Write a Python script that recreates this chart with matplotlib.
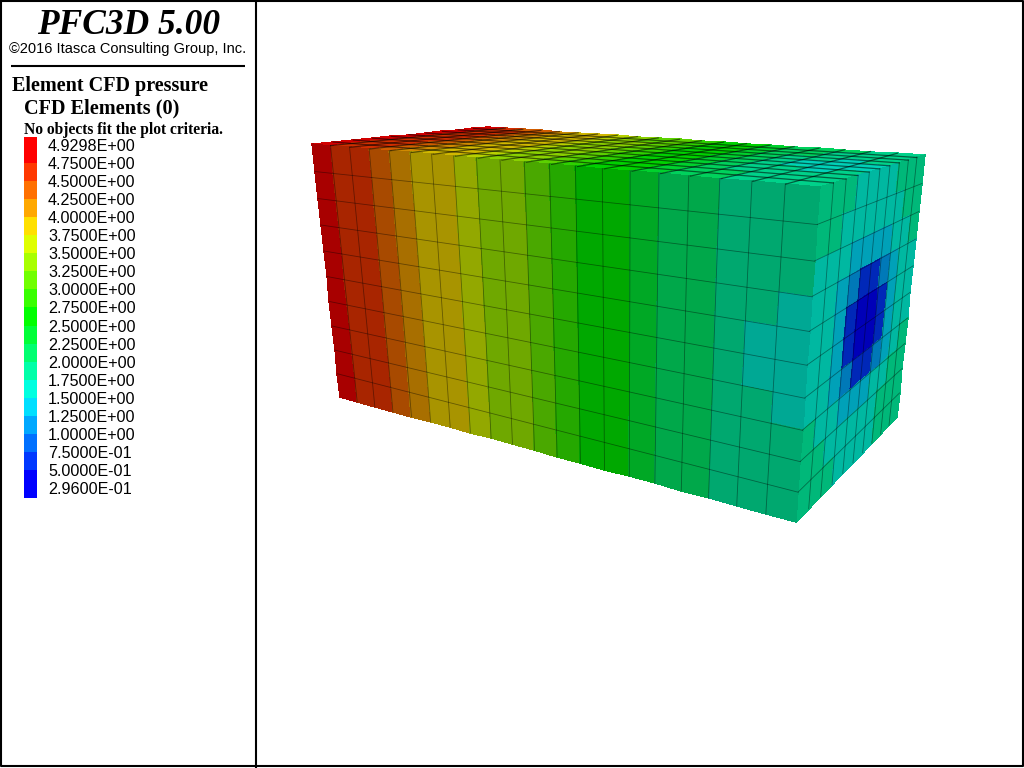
import numpy as np
import matplotlib
matplotlib.use("Agg")
import matplotlib.pyplot as plt
from matplotlib.colors import BoundaryNorm, ListedColormap, to_rgb

# legend, top entry first
legend_labels = ["4.9298E+00", "4.7500E+00", "4.5000E+00", "4.2500E+00", "4.0000E+00",
                 "3.7500E+00", "3.5000E+00", "3.2500E+00", "3.0000E+00", "2.7500E+00",
                 "2.5000E+00", "2.2500E+00", "2.0000E+00", "1.7500E+00", "1.5000E+00",
                 "1.2500E+00", "1.0000E+00", "7.5000E-01", "5.0000E-01", "2.9600E-01"]
levels = [0.296, 0.5, 0.75, 1.0, 1.25, 1.5, 1.75, 2.0, 2.25, 2.5, 2.75,
          3.0, 3.25, 3.5, 3.75, 4.0, 4.25, 4.5, 4.75, 4.9298]
level_colors = ["#0000ff", "#0038ff", "#0070ff", "#00a8ff", "#00dfff", "#00ffe0", "#00ffa8",
                "#00ff70", "#00ff38", "#00ff00", "#38ff00", "#70ff00", "#a8ff00", "#dfff00",
                "#ffe000", "#ffa800", "#ff7000", "#ff3800", "#ff0000"]

# pressure per element (top row of each list = top of the face)
front_p = [
    [4.85, 4.6, 4.6, 4.4, 4.1, 3.85, 3.85, 3.6, 3.4, 3.4, 3.1, 2.9, 2.6, 2.6, 2.4, 2.1, 2.1, 1.9, 1.9, 1.9],
    [4.85, 4.6, 4.6, 4.4, 4.1, 3.85, 3.85, 3.6, 3.4, 3.4, 3.1, 2.9, 2.6, 2.6, 2.4, 2.1, 2.1, 1.9, 1.9, 1.9],
    [4.85, 4.6, 4.6, 4.4, 4.1, 3.85, 3.85, 3.6, 3.4, 3.4, 3.1, 2.9, 2.6, 2.6, 2.4, 2.1, 2.1, 1.9, 1.9, 1.9],
    [4.85, 4.6, 4.6, 4.4, 4.1, 3.85, 3.85, 3.6, 3.4, 3.4, 3.1, 2.9, 2.6, 2.6, 2.4, 2.1, 2.1, 1.9, 1.9, 1.6],
    [4.85, 4.6, 4.6, 4.4, 4.1, 3.85, 3.85, 3.6, 3.4, 3.4, 3.1, 2.9, 2.6, 2.6, 2.4, 2.1, 2.1, 1.9, 1.6, 1.6],
    [4.85, 4.6, 4.6, 4.4, 4.1, 3.85, 3.85, 3.6, 3.4, 3.4, 3.1, 2.9, 2.6, 2.6, 2.4, 2.1, 2.1, 1.9, 1.6, 1.6],
    [4.85, 4.6, 4.6, 4.4, 4.1, 3.85, 3.85, 3.6, 3.4, 3.4, 3.1, 2.9, 2.6, 2.6, 2.4, 2.1, 2.1, 1.9, 1.9, 1.6],
    [4.85, 4.6, 4.6, 4.4, 4.1, 3.85, 3.85, 3.6, 3.4, 3.4, 3.1, 2.9, 2.6, 2.6, 2.4, 2.1, 2.1, 1.9, 1.9, 1.9],
    [4.85, 4.6, 4.6, 4.4, 4.1, 3.85, 3.85, 3.6, 3.4, 3.4, 3.1, 2.9, 2.6, 2.6, 2.4, 2.1, 2.1, 1.9, 1.9, 1.9],
    [4.85, 4.6, 4.6, 4.4, 4.1, 3.85, 3.85, 3.6, 3.4, 3.4, 3.1, 2.9, 2.6, 2.6, 2.4, 2.1, 2.1, 1.9, 1.9, 1.9],
]
right_p = [
    [1.9, 1.9, 1.9, 1.6, 1.6, 1.6, 1.6, 1.9, 1.9, 1.9],
    [1.9, 1.9, 1.6, 1.6, 1.6, 1.6, 1.6, 1.6, 1.9, 1.9],
    [1.6, 1.6, 1.6, 1.4, 1.4, 1.4, 1.4, 1.6, 1.6, 1.9],
    [1.6, 1.6, 1.4, 1.1, 0.6, 0.6, 1.1, 1.4, 1.6, 1.6],
    [1.6, 1.6, 1.4, 0.6, 0.4, 0.4, 0.6, 1.4, 1.6, 1.6],
    [1.6, 1.6, 1.4, 0.6, 0.4, 0.4, 0.6, 1.4, 1.6, 1.6],
    [1.6, 1.6, 1.4, 1.1, 0.6, 0.6, 1.1, 1.4, 1.6, 1.9],
    [1.9, 1.6, 1.6, 1.4, 1.4, 1.4, 1.6, 1.6, 1.9, 1.9],
    [1.9, 1.9, 1.6, 1.6, 1.6, 1.6, 1.6, 1.9, 1.9, 1.9],
    [1.9, 1.9, 1.9, 1.6, 1.6, 1.6, 1.6, 1.9, 1.9, 1.9],
]
# first row = back edge of the top face
top_p = [
    [4.85, 4.6, 4.4, 4.4, 4.1, 3.85, 3.85, 3.6, 3.4, 3.1, 3.1, 2.9, 2.6, 2.6, 2.4, 2.1, 2.1, 2.1, 1.9, 1.9],
    [4.85, 4.6, 4.6, 4.4, 4.1, 3.85, 3.85, 3.6, 3.4, 3.1, 3.1, 2.9, 2.6, 2.6, 2.4, 2.1, 2.1, 1.9, 1.9, 1.9],
    [4.85, 4.6, 4.6, 4.4, 4.1, 3.85, 3.85, 3.6, 3.4, 3.4, 3.1, 2.9, 2.6, 2.6, 2.4, 2.1, 2.1, 1.9, 1.9, 1.9],
    [4.85, 4.6, 4.6, 4.4, 4.1, 3.85, 3.85, 3.6, 3.4, 3.4, 3.1, 2.9, 2.6, 2.6, 2.4, 2.1, 1.9, 1.9, 1.6, 1.9],
    [4.85, 4.6, 4.6, 4.4, 4.1, 3.85, 3.85, 3.6, 3.4, 3.4, 3.1, 2.9, 2.6, 2.6, 2.4, 2.1, 1.9, 1.6, 1.6, 1.6],
    [4.85, 4.6, 4.6, 4.4, 4.1, 3.85, 3.85, 3.6, 3.4, 3.4, 3.1, 2.9, 2.6, 2.6, 2.4, 2.1, 1.9, 1.6, 1.6, 1.6],
    [4.85, 4.6, 4.6, 4.4, 4.1, 3.85, 3.85, 3.6, 3.4, 3.4, 3.1, 2.9, 2.6, 2.6, 2.4, 2.1, 1.9, 1.9, 1.6, 1.9],
    [4.85, 4.6, 4.6, 4.4, 4.1, 3.85, 3.85, 3.6, 3.4, 3.4, 3.1, 2.9, 2.6, 2.6, 2.4, 2.1, 1.9, 1.9, 1.9, 1.9],
    [4.85, 4.6, 4.6, 4.4, 4.1, 3.85, 3.85, 3.6, 3.4, 3.4, 3.1, 2.9, 2.6, 2.6, 2.4, 2.1, 2.1, 1.9, 1.9, 1.9],
    [4.85, 4.6, 4.6, 4.4, 4.1, 3.85, 3.85, 3.6, 3.4, 3.4, 3.1, 2.9, 2.6, 2.6, 2.4, 2.1, 2.1, 1.9, 1.9, 1.9],
]

SERIF = "Liberation Serif"
SANS = "Liberation Sans"


def face_grid(corners, nx, ny):
    """Perspective grid for a face; corners are TL, TR, BR, BL in pixels."""
    src = [(0, 0), (1, 0), (1, 1), (0, 1)]
    a, b = [], []
    for (u, v), (x, y) in zip(src, corners):
        a.append([u, v, 1, 0, 0, 0, -u * x, -v * x])
        a.append([0, 0, 0, u, v, 1, -u * y, -v * y])
        b += [x, y]
    h = np.linalg.solve(np.array(a, float), np.array(b, float))
    u, v = np.meshgrid(np.linspace(0, 1, nx + 1), np.linspace(0, 1, ny + 1))
    w = h[6] * u + h[7] * v + 1
    return (h[0] * u + h[1] * v + h[2]) / w, (h[3] * u + h[4] * v + h[5]) / w


def draw_face(ax, values, corners, shade, edge_alpha, lw):
    values = np.array(values)
    x, y = face_grid(corners, values.shape[1], values.shape[0])
    cmap = ListedColormap([tuple(c * shade for c in to_rgb(col)) for col in level_colors])
    norm = BoundaryNorm(levels, cmap.N)
    ax.pcolormesh(x, y, values, cmap=cmap, norm=norm, edgecolors="face", linewidth=0.2)
    # element outlines on top, drawn once per edge so the alpha does not double
    line = dict(color="black", alpha=edge_alpha, lw=lw)
    ax.plot(x[1:-1].T, y[1:-1].T, **line)
    ax.plot(x[:, 1:-1], y[:, 1:-1], **line)


fig = plt.figure(figsize=(10.24, 7.68), dpi=100)
ax = fig.add_axes([0, 0, 1, 1])
ax.set_xlim(0, 1024)
ax.set_ylim(768, 0)
ax.axis("off")

top_corners = [(488, 127), (925, 155), (820, 187), (312, 144)]
right_corners = [(820, 187), (925, 155), (897, 417), (796, 522)]
front_corners = [(312, 144), (820, 187), (796, 522), (340, 397)]
draw_face(ax, top_p, top_corners, 0.82, 0.55, 0.9)
draw_face(ax, right_p, right_corners, 0.72, 0.4, 0.6)
draw_face(ax, front_p, front_corners, 0.66, 0.4, 0.6)

# legend colour bar, swatches split at the labels
label_y = 146 + 18.05 * np.arange(len(legend_labels))
edges = np.concatenate(([137], label_y[1:-1] - 1, [498]))
ax.pcolormesh([24, 37], edges, np.array(levels[:-1])[::-1].reshape(-1, 1) + 0.01,
              cmap=ListedColormap(level_colors), norm=BoundaryNorm(levels, len(level_colors)))
for lab, y in zip(legend_labels, label_y):
    ax.text(48, y - 1, lab, family=SANS, fontsize=11.6, va="center_baseline", ha="left", color="black")

ax.text(128.5, 34, "PFC3D 5.00", family=SERIF, style="italic", weight="bold", fontsize=25.5,
        ha="center", va="baseline")
ax.text(127.5, 48, "\u00a92016 Itasca Consulting Group, Inc.", family=SANS, fontsize=10.55,
        ha="center", va="center_baseline")
ax.plot([11, 245], [66, 66], color="black", lw=1.5, solid_capstyle="butt")
ax.text(12, 91, "Element CFD pressure", family=SERIF, weight="bold", fontsize=14.5, va="baseline")
ax.text(24, 113, "CFD Elements (0)", family=SERIF, weight="bold", fontsize=14.6, va="baseline")
ax.text(24, 134, "No objects fit the plot criteria.", family=SERIF, weight="bold", fontsize=11.2,
        va="baseline")

# plot window frame
ax.plot([1, 1022.5, 1022.5, 1, 1], [1, 1, 766, 766, 1], color="black", lw=1.5)
ax.plot([255.5, 255.5], [0, 767], color="black", lw=1.5)

fig.savefig("out.png", dpi=100)
